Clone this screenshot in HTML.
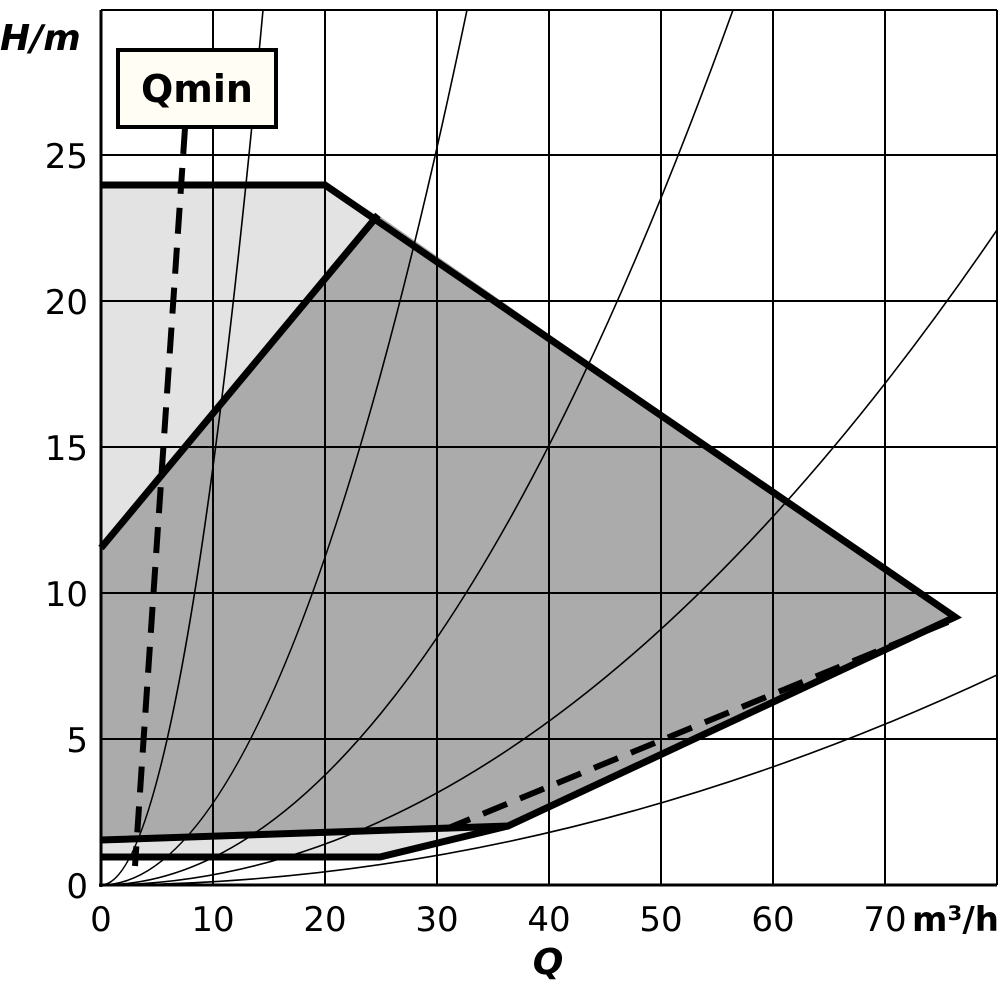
<!DOCTYPE html>
<html><head><meta charset="utf-8"><style>
html,body{margin:0;padding:0;background:#fff;}
svg{display:block;}
text{font-family:"DejaVu Sans","Liberation Sans",sans-serif;fill:#000;}
</style></head><body>
<svg width="1000" height="1000" viewBox="0 0 1000 1000">
<defs><clipPath id="c"><rect x="101" y="10" width="896" height="875"/></clipPath></defs>
<rect width="1000" height="1000" fill="#fff"/>
<polygon points="101,185 325,185 378,215 101,548" fill="#e3e3e3"/>
<polygon points="101,840 508,826 380,857 101,857" fill="#e3e3e3"/>
<polygon points="101,548 378,215 955,617 508,826 101,840" fill="#ababab"/>
<g stroke="#000" stroke-width="2">
<line x1="213" y1="10" x2="213" y2="885"/><line x1="325" y1="10" x2="325" y2="885"/>
<line x1="437" y1="10" x2="437" y2="885"/><line x1="549" y1="10" x2="549" y2="885"/>
<line x1="661" y1="10" x2="661" y2="885"/><line x1="773" y1="10" x2="773" y2="885"/>
<line x1="885" y1="10" x2="885" y2="885"/><line x1="997" y1="10" x2="997" y2="885"/>
<line x1="101" y1="10" x2="997" y2="10"/><line x1="101" y1="155" x2="997" y2="155"/>
<line x1="101" y1="301" x2="997" y2="301"/><line x1="101" y1="447" x2="997" y2="447"/>
<line x1="101" y1="593" x2="997" y2="593"/><line x1="101" y1="739" x2="997" y2="739"/>
</g>
<g stroke="#000" stroke-width="3"><line x1="101" y1="10" x2="101" y2="887"/><line x1="99" y1="885" x2="997" y2="885"/></g>
<g clip-path="url(#c)" fill="none" stroke="#000" stroke-width="1.6">
<path d="M101 885 Q182 885 263 10"/>
<path d="M101 885 Q284 885 467 10"/>
<path d="M101 885 Q417 885 733 10"/>
<path d="M101 885 Q549 885 997 230"/>
<path d="M101 885 Q549 885 997 675"/>
</g>
<g fill="none" stroke="#000" stroke-width="7" stroke-linejoin="miter">
<polyline points="101,185 325,185 955,617 508,826 101,840"/>
<polyline points="101,548 378,215"/>
<polyline points="101,857 380,857 508,826"/>
</g>
<g fill="none" stroke="#000" stroke-width="6" stroke-dasharray="26,14">
<line x1="185" y1="128" x2="135" y2="866"/>
<line x1="446" y1="829" x2="948" y2="622"/>
</g>
<rect x="118" y="50" width="158" height="77" fill="#fffdf4" stroke="#000" stroke-width="4"/>
<text x="197" y="102" font-size="38" font-weight="bold" text-anchor="middle">Qmin</text>
<g font-size="34" text-anchor="end">
<text x="88" y="168">25</text><text x="88" y="314">20</text><text x="88" y="460">15</text>
<text x="88" y="606">10</text><text x="88" y="752">5</text><text x="88" y="898">0</text>
</g>
<g font-size="34" text-anchor="middle">
<text x="101" y="931">0</text><text x="213" y="931">10</text><text x="325" y="931">20</text>
<text x="437" y="931">30</text><text x="549" y="931">40</text><text x="661" y="931">50</text>
<text x="773" y="931">60</text><text x="885" y="931">70</text>
</g>
<text x="999" y="931" font-size="34" font-weight="bold" text-anchor="end">m³/h</text>
<text x="0" y="50" font-size="36" font-weight="bold" font-style="italic">H/m</text>
<text x="548" y="974" font-size="36" font-weight="bold" font-style="italic" text-anchor="middle">Q</text>
</svg>
</body></html>
